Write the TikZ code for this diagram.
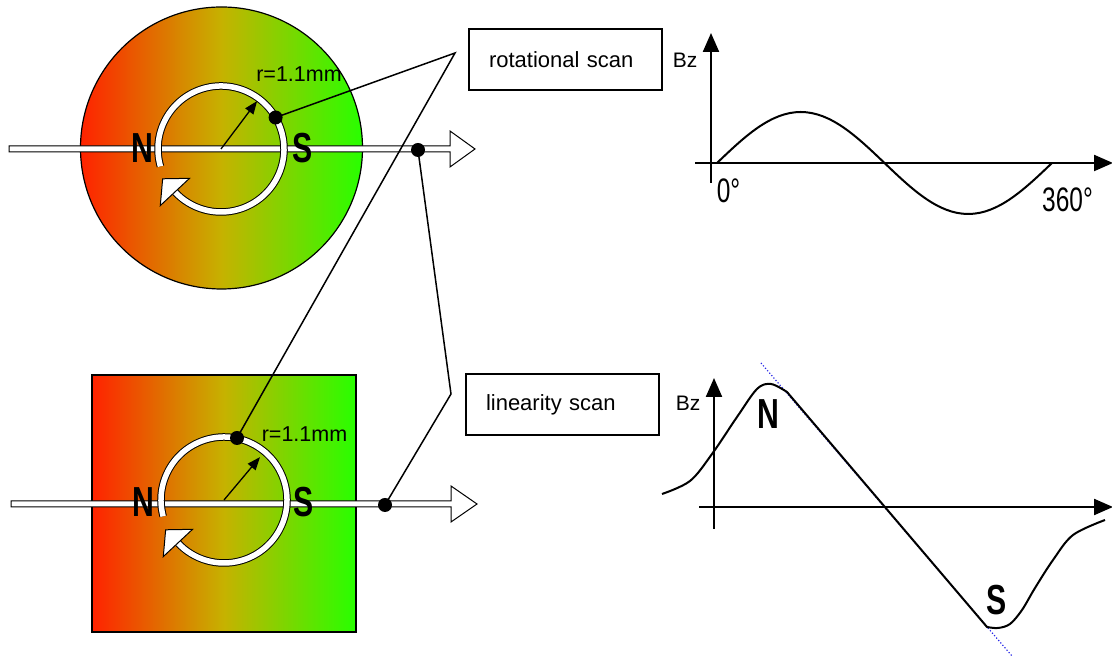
\documentclass[tikz,border=0pt]{standalone}
\usepackage{fontspec}
\setmainfont{Liberation Sans}
\newfontfamily\narrowsans{Liberation Sans}[FakeStretch=0.72]
\usetikzlibrary{arrows.meta}
\definecolor{magred}{RGB}{255,34,0}
\definecolor{magmid}{RGB}{198,178,0}
\definecolor{maggreen}{RGB}{40,255,0}
\definecolor{tangentblue}{RGB}{40,40,230}

\begin{document}
\begin{tikzpicture}[
        x=1pt, y=1pt,
        magnet/.style={draw=black, line width=1.2pt, left color=magred, right color=maggreen, middle color=magmid, inner sep=0pt},
        scanshaft/.style={draw=black, fill=white, line width=1pt},
        ring/.style={draw=black, double=white, double distance=5.5pt, line width=1pt},
        ringtip/.style={draw=black, fill=white, line width=1pt},
        radiusarrow/.style={line width=1.3pt, -{Triangle[length=13pt, width=10pt]}},
        dot/.style={circle, fill=black, minimum size=14pt, inner sep=0pt},
        callout/.style={line width=1.5pt},
        scanbox/.style={draw=black, line width=1.2pt, fill=white, minimum height=61pt, text width=153pt, inner xsep=20pt, align=left, font=\fontsize{22}{24}\selectfont},
        polelabel/.style={font=\narrowsans\bfseries\fontsize{42}{46}\selectfont, inner sep=0pt},
        radiuslabel/.style={font=\fontsize{21.5}{24}\selectfont, inner sep=0pt},
        axis/.style={line width=2.2pt, -{Triangle[length=19pt, width=16pt]}},
        curve/.style={line width=2pt},
        tangent/.style={draw=tangentblue, line width=1.2pt, dotted},
        bzlabel/.style={font=\fontsize{21}{23}\selectfont, inner sep=0pt},
        anglelabel/.style={font=\narrowsans\fontsize{34}{37}\selectfont, inner sep=0pt}
    ]
        \useasboundingbox (0,0) rectangle (1112,660);

        % magnets
        \node[magnet, circle, minimum size=282pt] (rotmagnet) at (221.5,512) {};
        \node[magnet, rectangle, minimum width=264pt, minimum height=257pt] (linmagnet) at (224,156.5) {};

        % scan direction arrows
        \draw[scanshaft] (9,508) -- (450,508) -- (450,493) -- (475,511) -- (450,529) -- (450,514) -- (9,514) -- cycle;
        \draw[scanshaft] (11,153) -- (451,153) -- (451,138) -- (477,156) -- (451,174) -- (451,159) -- (11,159) -- cycle;

        % rotation rings
        \coordinate (rotcentre) at (221,511);
        \coordinate (lincentre) at (224,160);
        \draw[ring] (rotcentre) ++(196:63) arc[start angle=196, end angle=-137, radius=63];
        \begin{scope}[shift={(rotcentre)}, rotate=-137]
            \draw[ringtip] (43,0) -- (63,-18) -- (83,0) -- cycle;
        \end{scope}
        \draw[ring] (lincentre) ++(195:63) arc[start angle=195, end angle=-137, radius=63];
        \begin{scope}[shift={(lincentre)}, rotate=-137]
            \draw[ringtip] (43,0) -- (63,-18) -- (83,0) -- cycle;
        \end{scope}

        \path (rotcentre) ++(53:60) coordinate (rotrim);
        \path (lincentre) ++(50:56) coordinate (linrim);
        \draw[radiusarrow] (rotcentre) -- (rotrim);
        \draw[radiusarrow] (lincentre) -- (linrim);
        \node[radiuslabel] (rotradius) at (299,585.5) {r=1.1mm};
        \node[radiuslabel] (linradius) at (304.5,226.3) {r=1.1mm};

        \node[polelabel] (rotnorth) at (142,512) {N};
        \node[polelabel] (rotsouth) at (302.5,512) {S};
        \node[polelabel] (linnorth) at (143,157.5) {N};
        \node[polelabel] (linsouth) at (303.5,157.5) {S};

        % callouts
        \node[scanbox] (rotbox) at (565.5,600.5) {rotational scan};
        \node[scanbox] (linbox) at (562.5,255.5) {linearity scan};
        \coordinate (rotcorner) at (455,607);
        \coordinate (lincorner) at (451,266);
        \node[dot] (rotringdot) at (275.6,542.5) {};
        \node[dot] (linringdot) at (237,222) {};
        \node[dot] (rotaxisdot) at (418,510) {};
        \node[dot] (linaxisdot) at (385,155) {};
        \draw[callout] (rotringdot.center) -- (rotcorner) -- (linringdot.center);
        \draw[callout] (rotaxisdot.center) -- (lincorner) -- (linaxisdot.center);

        % rotational scan signal
        \coordinate (rotyfoot) at (711,477);
        \coordinate (rotytip) at (711,627);
        \coordinate (rotxfoot) at (695,497);
        \coordinate (rotxtip) at (1113,497);
        \draw[axis] (rotyfoot) -- (rotytip);
        \draw[axis] (rotxfoot) -- (rotxtip);
        \draw[curve] (717,497) sin (800.75,548) cos (884.5,497) sin (968.25,446) cos (1052,497);
        \node[bzlabel] (rotbz) at (685,600) {Bz};
        \node[anglelabel] (zerodeg) at (728.5,469.5) {0°};
        \node[anglelabel] (fulldeg) at (1067.5,460.5) {360°};

        % linearity scan signal
        \coordinate (linyfoot) at (714,131);
        \coordinate (linytip) at (714,282);
        \coordinate (linxfoot) at (699,153);
        \coordinate (linxtip) at (1113,153);
        \draw[axis] (linyfoot) -- (linytip);
        \draw[axis] (linxfoot) -- (linxtip);
        \coordinate (tangenttop) at (761,297);
        \coordinate (tangentbot) at (1012,4);
        \draw[tangent] (tangenttop) -- (tangentbot);
        \draw[curve] plot[smooth, tension=0.55] coordinates {(662,166) (690,179) (712,206) (737,243) (757,271) (771,276) (787,268)}
            -- plot[smooth, tension=0.55] coordinates {(987,33) (998,32) (1010,36) (1022,50) (1035,72) (1053,100) (1073,125) (1105,140)};
        \node[bzlabel] (linbz) at (688,257) {Bz};
        \node[polelabel] (curvenorth) at (768,245.5) {N};
        \node[polelabel] (curvesouth) at (997,60) {S};
    \end{tikzpicture}
\end{document}
